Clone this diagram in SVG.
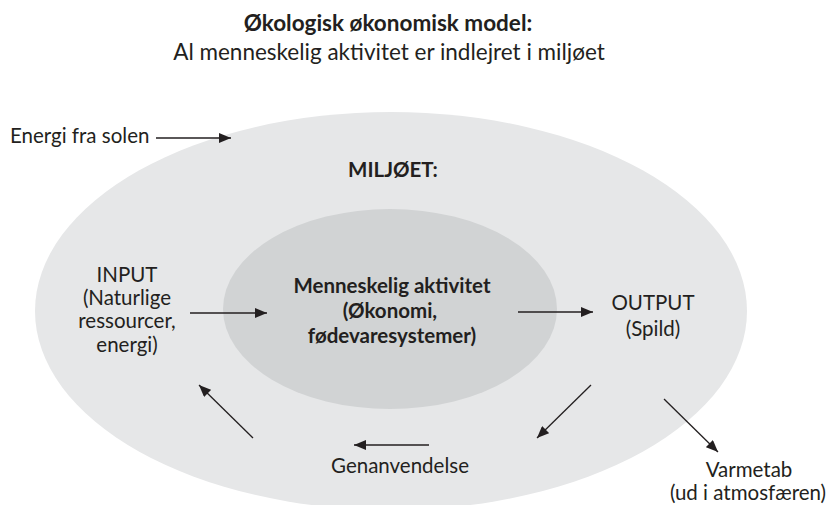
<svg xmlns="http://www.w3.org/2000/svg" width="827" height="505" viewBox="0 0 827 505">
  <defs>
    <style>
      text { font-family: Lato, "Open Sans", "Liberation Sans", sans-serif; fill: #231f20; font-size: 20.5px; }
      .b { font-weight: bold; }
      .c { text-anchor: middle; }
      .t { font-size: 22.5px; }
      .arrow { stroke: #231f20; stroke-width: 1.3; fill: none; marker-end: url(#ah); }
    </style>
    <marker id="ah" viewBox="0 0 12 10" refX="12" refY="5" markerWidth="13" markerHeight="10" markerUnits="userSpaceOnUse" orient="auto">
      <path d="M0,0 L12,5 L0,10 Z" fill="#231f20"/>
    </marker>
  </defs>
  <rect width="827" height="505" fill="#ffffff"/>

  <g id="title">
    <text class="b c t" x="388" y="31">Økologisk økonomisk model:</text>
    <text class="c t" x="389" y="60">Al menneskelig aktivitet er indlejret i miljøet</text>
  </g>

  <g id="miljoet">
    <ellipse cx="391" cy="311" rx="356" ry="199" fill="#e6e7e8"/>
    <text class="b c" x="393" y="177">MILJØET:</text>
  </g>

  <g id="menneskelig-aktivitet">
    <ellipse cx="390" cy="309" rx="167" ry="100" fill="#d1d3d4"/>
    <text class="b c" x="392" y="293">Menneskelig aktivitet</text>
    <text class="b c" x="390" y="318">(Økonomi,</text>
    <text class="b c" x="392" y="343">fødevaresystemer)</text>
  </g>

  <g id="energi">
    <text x="10" y="143">Energi fra solen</text>
  </g>

  <g id="input">
    <text class="c" x="127" y="282">INPUT</text>
    <text class="c" x="127" y="305">(Naturlige</text>
    <text class="c" x="127" y="328">ressourcer,</text>
    <text class="c" x="127" y="352">energi)</text>
  </g>

  <g id="output">
    <text class="c" x="653" y="310">OUTPUT</text>
    <text class="c" x="653" y="336">(Spild)</text>
  </g>

  <g id="genanvendelse">
    <text class="c" x="400" y="473">Genanvendelse</text>
  </g>

  <g id="varmetab">
    <text class="c" x="749" y="477">Varmetab</text>
    <text class="c" x="748" y="500">(ud i atmosfæren)</text>
  </g>

  <g id="connectors">
    <line class="arrow" x1="156" y1="138" x2="231" y2="138"/>
    <line class="arrow" x1="190" y1="313" x2="267" y2="313"/>
    <line class="arrow" x1="518" y1="312" x2="593" y2="312"/>
    <line class="arrow" x1="591" y1="385" x2="537" y2="438"/>
    <line class="arrow" x1="664" y1="399" x2="718" y2="452"/>
    <line class="arrow" x1="429" y1="445" x2="354" y2="445"/>
    <line class="arrow" x1="253" y1="438" x2="199" y2="385"/>
  </g>
</svg>
